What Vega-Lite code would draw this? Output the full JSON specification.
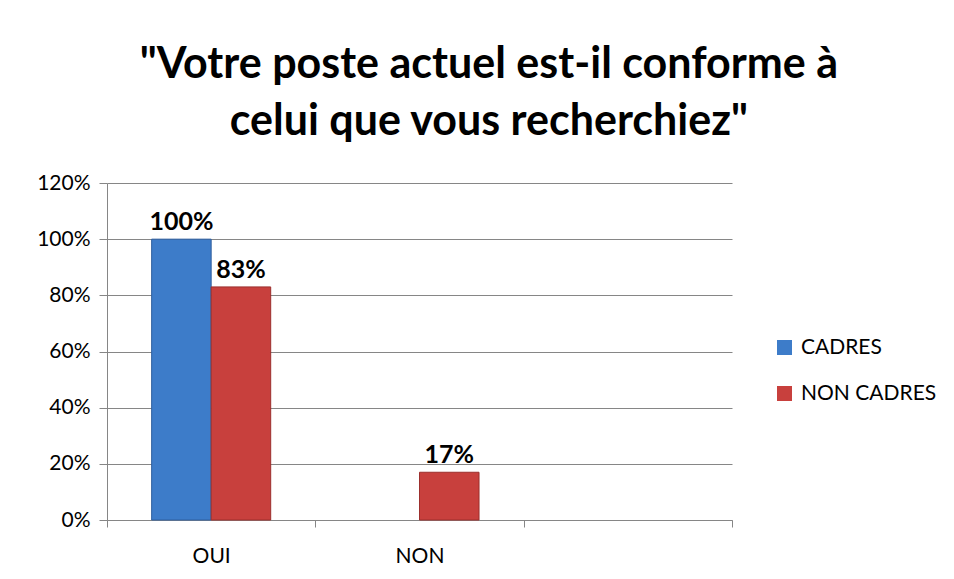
{
  "$schema": "https://vega.github.io/schema/vega-lite/v6.json",
  "width": 625,
  "height": 337,
  "padding": {"left": 36, "top": 44, "right": 10, "bottom": 5},
  "background": "white",
  "title": {
    "text": ["\"Votre poste actuel est-il conforme à", "celui que vous recherchiez\""],
    "font": "Lato",
    "fontSize": 43,
    "fontWeight": "bold",
    "color": "black",
    "anchor": "middle",
    "frame": "bounds",
    "lineHeight": 57,
    "offset": 28,
    "dx": 2
  },
  "config": {
    "view": {"stroke": null},
    "font": "Lato"
  },
  "data": {
    "values": [
      {"reponse": "OUI", "statut": "CADRES", "valeur": 1.0},
      {"reponse": "OUI", "statut": "NON CADRES", "valeur": 0.83},
      {"reponse": "NON", "statut": "CADRES", "valeur": 0},
      {"reponse": "NON", "statut": "NON CADRES", "valeur": 0.17}
    ]
  },
  "transform": [{"filter": "datum.valeur > 0"}],
  "encoding": {
    "x": {
      "field": "reponse",
      "type": "nominal",
      "sort": null,
      "title": null,
      "scale": {"domain": ["OUI", "NON", ""], "paddingInner": 0, "paddingOuter": 0},
      "axis": {
        "tickBand": "extent",
        "tickSize": 7,
        "tickColor": "#868686",
        "domainColor": "#868686",
        "labelAngle": 0,
        "labelFontSize": 21,
        "labelFont": "Lato",
        "labelColor": "black",
        "labelPadding": 18,
        "grid": false
      }
    },
    "xOffset": {
      "field": "statut",
      "type": "nominal",
      "scale": {"domain": ["CADRES", "NON CADRES"], "paddingInner": 0, "paddingOuter": 0.75}
    },
    "y": {
      "field": "valeur",
      "type": "quantitative",
      "title": null,
      "scale": {"domain": [0, 1.2], "nice": false},
      "axis": {
        "format": ".0%",
        "values": [0, 0.2, 0.4, 0.6, 0.8, 1.0, 1.2],
        "tickSize": 8,
        "tickColor": "#868686",
        "domainColor": "#868686",
        "gridColor": "#868686",
        "labelFontSize": 21,
        "labelFont": "Lato",
        "labelColor": "black",
        "labelPadding": 9
      }
    }
  },
  "layer": [
    {
      "mark": {"type": "bar", "strokeWidth": 1},
      "encoding": {
        "color": {
          "field": "statut",
          "type": "nominal",
          "scale": {"domain": ["CADRES", "NON CADRES"], "range": ["#3d7cc9", "#c8403d"]},
          "legend": {
            "title": null,
            "orient": "none",
            "legendX": 667,
            "legendY": 154,
            "symbolType": "square",
            "symbolSize": 225,
            "symbolStrokeWidth": 0,
            "labelFontSize": 21,
            "labelFont": "Lato",
            "labelColor": "black",
            "rowPadding": 24,
            "labelOffset": 6
          }
        },
        "stroke": {
          "field": "statut",
          "type": "nominal",
          "scale": {"domain": ["CADRES", "NON CADRES"], "range": ["#2f5f9e", "#9c2f2d"]},
          "legend": null
        }
      }
    },
    {
      "mark": {"type": "text", "dy": -9, "baseline": "alphabetic", "fontWeight": "bold", "fontSize": 25, "font": "Lato", "color": "black"},
      "encoding": {
        "text": {"field": "valeur", "type": "quantitative", "format": ".0%"}
      }
    }
  ]
}
